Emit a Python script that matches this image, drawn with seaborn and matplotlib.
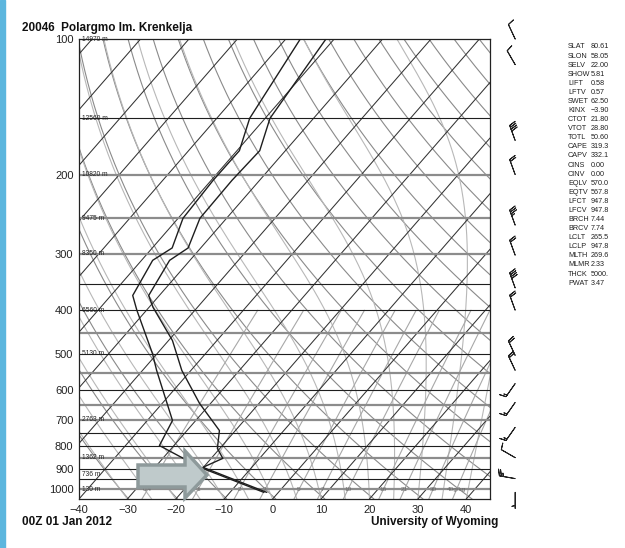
import numpy as np
import matplotlib
matplotlib.use("Agg")
import matplotlib.pyplot as plt
import seaborn as sns
from matplotlib.patches import Polygon, Rectangle

sns.set_theme(style="white")
plt.rcParams["font.family"] = ["Liberation Sans", "DejaVu Sans"]

# ---------------- data ----------------
station_title = "20046  Polargmo Im. Krenkelja"
time_label = "00Z 01 Jan 2012"
source_label = "University of Wyoming"

temp_pres = [1015, 893, 853, 811, 740, 644, 544, 467, 394, 371, 310, 291, 250, 206, 177, 150, 100]
temp_vals = [-2.4, -20.1, -17.6, -20.5, -23.3, -32.3, -41.9, -49.2, -59.2, -62.2, -64.2, -62.6, -65.5, -65.7, -65.3, -69.0, -71.7]

dewp_pres = [1015, 893, 799, 703, 544, 499, 400, 371, 310, 291, 250, 206, 177, 150, 100]
dewp_vals = [-3.0, -20.7, -33.0, -34.8, -47.1, -51.0, -62.0, -65.5, -67.7, -65.9, -69.0, -69.6, -69.5, -73.2, -77.0]

p_tick_vals = [100, 200, 300, 400, 500, 600, 700, 800, 900, 1000]
t_tick_vals = [-40, -30, -20, -10, 0, 10, 20, 30, 40]

height_pres = [100, 150, 200, 250, 300, 400, 500, 700, 850, 925, 1000]
height_labels = ["14970 m", "12560 m", "10820 m", "9475 m", "8350 m", "6560 m",
                 "5130 m", "2763 m", "1362 m", "736 m", "130 m"]

dark_levels = [150, 350, 400, 500, 600, 750, 800, 900, 950]
grey_levels = [200, 250, 300, 450, 550, 650, 700, 850, 1000]

mix_ratios = [0.4, 1, 2, 3, 5, 7, 10, 16, 21, 30, 40]

barb_pres = [100, 114, 168, 200, 259, 302, 357, 400, 504, 544, 582, 641, 728, 850, 946, 1015]
barb_dir = [335, 330, 340, 340, 340, 340, 340, 340, 335, 335, 215, 215, 215, 300, 280, 180]
barb_spd = [10, 10, 40, 20, 35, 20, 40, 20, 20, 20, 15, 15, 15, 10, 25, 5]

stat_names = ["SLAT", "SLON", "SELV", "SHOW", "LIFT", "LFTV", "SWET", "KINX", "CTOT",
              "VTOT", "TOTL", "CAPE", "CAPV", "CINS", "CINV", "EQLV", "EQTV", "LFCT",
              "LFCV", "BRCH", "BRCV", "LCLT", "LCLP", "MLTH", "MLMR", "THCK", "PWAT"]
stat_values = ["80.61", "58.05", "22.00", "5.81", "0.58", "0.57", "62.50", "\u22123.90", "21.80",
               "28.80", "50.60", "319.3", "332.1", "0.00", "0.00", "570.0", "567.8", "947.8",
               "947.8", "7.44", "7.74", "265.5", "947.8", "269.6", "2.33", "5000.", "3.47"]

# ---------------- geometry ----------------
W, H = 625, 548
P_BOT, P_TOP = 1050.0, 100.0
SKEW = 81.0   # deg C shift per decade of pressure
XMIN, XMAX = -40.0, 44.9
BARB_X = 50.1


def skx(T, p):
    return np.asarray(T, float) + SKEW * np.log10(P_BOT / np.asarray(p, float))


fig = plt.figure(figsize=(W / 100, H / 100), dpi=100)
fig.patch.set_facecolor("white")
ax = fig.add_axes([79 / W, 1 - 499 / H, 411 / W, 460 / H])
ax.set_yscale("log")
ax.set_xlim(XMIN, XMAX)
ax.set_ylim(P_BOT, P_TOP)

pgrid = np.logspace(np.log10(P_BOT), np.log10(P_TOP), 200)

# isotherms
for T in np.arange(-150, 50, 10):
    ax.plot(skx(np.full_like(pgrid, T), pgrid), pgrid, color="#333333", lw=0.75, zorder=2)

# dry adiabats
for th in np.arange(230, 480, 10):
    Tk = th * (pgrid / 1000.0) ** 0.2857 - 273.15
    ax.plot(skx(Tk, pgrid), pgrid, color="#8a8a8a", lw=0.8, zorder=1)

# moist adiabats
Rd, cp, Lv, eps = 287.04, 1005.7, 2.501e6, 0.622
starts = np.arange(-30, 45, 5).astype(float) + 273.15
Tcur = starts.copy()
moist = [Tcur.copy()]
for i in range(1, len(pgrid)):
    p0 = pgrid[i - 1]
    dp = pgrid[i] - p0
    es = 6.112 * np.exp(17.67 * (Tcur - 273.15) / (Tcur - 29.65))
    ws = eps * es / (p0 - es)
    dTdp = (Rd * Tcur + Lv * ws) / (p0 * (cp + Lv * Lv * ws * eps / (Rd * Tcur ** 2)))
    Tcur = Tcur + dTdp * dp
    moist.append(Tcur.copy())
moist = np.array(moist) - 273.15
for j in range(moist.shape[1]):
    ax.plot(skx(moist[:, j], pgrid), pgrid, color="#b8b8b8", lw=0.8, zorder=1)

# mixing ratio lines
pm = np.logspace(np.log10(P_BOT), np.log10(400), 50)
for w in mix_ratios:
    e = (w / 1000.0) * pm / (eps + w / 1000.0)
    lnr = np.log(e / 6.112)
    Td = 243.5 * lnr / (17.67 - lnr)
    ax.plot(skx(Td, pm), pm, color="#a8a8a8", lw=0.8, zorder=1)
    e0 = (w / 1000.0) * 1000 / (eps + w / 1000.0)
    l0 = np.log(e0 / 6.112)
    x0 = skx(243.5 * l0 / (17.67 - l0), 1000)
    lab = ("%g" % w) + ("g/kg" if w == mix_ratios[-1] else "")
    ax.text(x0, 1000, lab, fontsize=4.6, color="#666666", ha="center", va="center", zorder=3)

# pressure lines
for p in dark_levels:
    ax.axhline(p, color="#1e1e1e", lw=0.8, zorder=2)
for p in grey_levels:
    ax.axhline(p, color="#8c8c8c", lw=1.6, zorder=2)

# height labels
for p, lab in zip(height_pres, height_labels):
    ax.text(XMIN + 0.7, p, lab, fontsize=4.8, color="#222222", ha="left", va="center", zorder=4)

# sounding
sns.lineplot(x=skx(temp_vals, temp_pres), y=temp_pres, sort=False, ax=ax, color="#1e1e1e", lw=1.0, zorder=5)
sns.lineplot(x=skx(dewp_vals, dewp_pres), y=dewp_pres, sort=False, ax=ax, color="#1e1e1e", lw=1.0, zorder=5)

ax.set_yscale("log")
ax.set_xlim(XMIN, XMAX)
ax.set_ylim(P_BOT, P_TOP)
ax.set_yticks(p_tick_vals)
ax.set_yticklabels([str(v) for v in p_tick_vals])
ax.yaxis.set_minor_locator(matplotlib.ticker.NullLocator())
ax.set_xticks(t_tick_vals)
ax.set_xticklabels([("\u2212%d" % -v) if v < 0 else str(v) for v in t_tick_vals])
ax.tick_params(axis="both", length=0, labelsize=8, colors="#222222", pad=4)
ax.set_xlabel("")
ax.set_ylabel("")
for s in ax.spines.values():
    s.set_color("#222222")
    s.set_linewidth(0.9)

# wind barbs
bd = np.deg2rad(barb_dir)
u = -np.array(barb_spd) * np.sin(bd)
v = -np.array(barb_spd) * np.cos(bd)
ax.barbs(np.full(len(barb_pres), BARB_X), barb_pres, u, v, length=4.8, linewidth=0.7,
         color="#222222", clip_on=False, zorder=6)

# texts
def fx(x):
    return x / W


def fy(y):
    return 1 - y / H


fig.text(fx(22), fy(28), station_title, fontsize=8.5, fontweight="bold", ha="left", va="center", color="#111111")
fig.text(fx(22), fy(522), time_label, fontsize=8.5, fontweight="bold", ha="left", va="center", color="#111111")
fig.text(fx(371), fy(522), source_label, fontsize=8.5, fontweight="bold", ha="left", va="center", color="#111111")

for i, (n, val) in enumerate(zip(stat_names, stat_values)):
    yy = 47 + i * 9.08
    fig.text(fx(568), fy(yy), n, fontsize=5.2, ha="left", va="center", color="#222222")
    fig.text(fx(591), fy(yy), val, fontsize=5.2, ha="left", va="center", color="#222222")

# decorations: left blue strip and highlight arrow
fig.patches.append(Rectangle((0, 0), 5 / W, 1, transform=fig.transFigure, color="#5cb6de", zorder=0))
arrow_px = [(138, 465), (185, 465), (185, 451), (207, 475), (185, 498), (185, 487), (138, 487)]
fig.patches.append(Polygon([(fx(a), fy(b)) for a, b in arrow_px], closed=True, transform=fig.transFigure,
                           facecolor="#bfcacb", edgecolor="#8e9a9b", lw=2.5, zorder=10))

fig.savefig("out.png", dpi=100)
